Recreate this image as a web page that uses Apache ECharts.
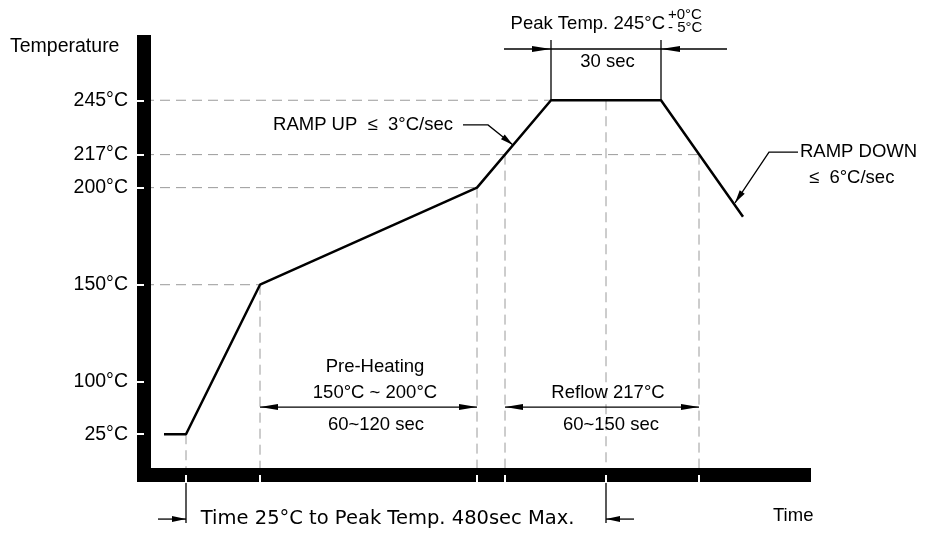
<!DOCTYPE html>
<html>
<head>
<meta charset="utf-8">
<script src="https://cdn.jsdelivr.net/npm/echarts@6/dist/echarts.min.js"></script>
<style>
html, body { margin: 0; padding: 0; background: #fff; }
#chart { width: 929px; height: 534px; }
</style>
</head>
<body>
<div id="chart"></div>
<script>
// reflow profile corners: time (schematic sec) and temperature (°C)
var profileTime = [10, 21, 58, 166.5, 203.5, 258.5, 299.5];
var profileTemp = [25, 25, 150, 200, 245, 245, 185];

// temperature tick labels on the y axis
var tempTicks = [25, 100, 150, 200, 217, 245];

// dashed horizontals: [temperature, time where the dash stops]
var levelGuides = [[150, 58], [200, 166.5], [217, 277.5], [245, 203.5]];
// dashed verticals: [time, temperature where the dash starts]
var timeGuides = [[21, 25], [58, 150], [166.5, 200], [180.5, 217], [231, 245], [277.5, 217]];
var timeTicks = timeGuides.map(function (g) { return g[0]; });

// the axis is broken below 100°C (25°C sits close to 100°C)
function lvl(t) { return t >= 100 ? t : 100 - (100 - t) * 0.36; }

var FONT = "'Liberation Sans', Arial, sans-serif";

// annotation layout, in [time, axis level]
var arrows = [
  { pts: [[58, 87], [166.5, 87]], start: true, end: true, len: 18 },
  { pts: [[180.5, 87], [277.5, 87]], start: true, end: true, len: 18 },
  { pts: [[180, 271.4], [203.5, 271.4]], end: true, len: 19 },
  { pts: [[203.5, 271.4], [258.5, 271.4]] },
  { pts: [[291.5, 271.4], [258.5, 271.4]], end: true, len: 19 },
  { pts: [[203.5, 245], [203.5, 276]] },
  { pts: [[258.5, 245], [258.5, 276]] },
  { pts: [[21, 52], [21, 27.3]] },
  { pts: [[231, 52], [231, 27.3]] },
  { pts: [[7, 29.3], [21, 29.3]], end: true, len: 14 },
  { pts: [[245, 29.3], [231, 29.3]], end: true, len: 14 },
  { pts: [[159.5, 232.3], [172, 232.3], [184.5, 222]], end: true, len: 13 },
  { pts: [[327, 218.3], [312.5, 218.3], [295.5, 192.2]], end: true, len: 13 }
];

var notes = [
  { t: 'Temperature', x: -67, y: 272.4, align: 'left', size: 19.5 },
  { t: 'Peak Temp. 245°C', x: 260.5, y: 284.3, align: 'right' },
  { t: '+0°C', x: 262, y: 288.9, align: 'left', size: 15 },
  { t: '- 5°C', x: 262, y: 282.2, align: 'left', size: 15 },
  { t: '30 sec', x: 231.75, y: 264.7 },
  { t: 'RAMP UP  ≤  3°C/sec', x: 154.5, y: 232.3, align: 'right' },
  { t: 'RAMP DOWN', x: 328, y: 218.3, align: 'left' },
  { t: '≤  6°C/sec', x: 332.5, y: 204.9, align: 'left' },
  { t: 'Pre-Heating', x: 115.5, y: 107.6 },
  { t: '150°C ~ 200°C', x: 115.5, y: 94.2 },
  { t: '60~120 sec', x: 116, y: 77.8 },
  { t: 'Reflow 217°C', x: 232, y: 94.2 },
  { t: '60~150 sec', x: 233.5, y: 77.8 },
  { t: 'Time 25°C to Peak Temp. 480sec Max.', x: 28.4, y: 29.3, align: 'left', size: 19.5, family: "'DejaVu Sans', Verdana, sans-serif" },
  { t: 'Time', x: 314.5, y: 30.9, align: 'left' }
];

function head(tip, from, len, w) {
  var dx = tip[0] - from[0], dy = tip[1] - from[1];
  var d = Math.sqrt(dx * dx + dy * dy) || 1;
  dx /= d; dy /= d;
  var bx = tip[0] - dx * len, by = tip[1] - dy * len;
  return [tip, [bx - dy * w / 2, by + dx * w / 2], [bx + dy * w / 2, by - dx * w / 2]];
}

var guideData = [];
levelGuides.forEach(function (g) { guideData.push([0, lvl(g[0]), g[1], lvl(g[0])]); });
timeGuides.forEach(function (g) { guideData.push([g[0], lvl(g[1]), g[0], 52]); });

var myChart = echarts.init(document.getElementById('chart'));
var option = {
  animation: false,
  grid: { left: 144, right: 125, top: 42, bottom: 59, containLabel: false, outerBoundsMode: 'none' },
  xAxis: {
    type: 'value', min: 0, max: 330, z: 10,
    axisLine: { lineStyle: { color: '#000', width: 14, cap: 'square' } },
    axisTick: { show: true, customValues: timeTicks, length: 8, lineStyle: { color: '#fff', width: 2 } },
    axisLabel: { show: false },
    splitLine: { show: false }
  },
  yAxis: {
    type: 'value', min: 52, max: 275, z: 10,
    axisLine: { show: true, lineStyle: { color: '#000', width: 14, cap: 'square' } },
    axisTick: { show: true, customValues: tempTicks.map(lvl), length: 7, lineStyle: { color: '#fff', width: 2 } },
    axisLabel: {
      customValues: tempTicks.map(lvl), margin: 16, color: '#000', fontSize: 19.5, fontFamily: FONT,
      formatter: function (v) {
        for (var i = 0; i < tempTicks.length; i++) {
          if (Math.abs(lvl(tempTicks[i]) - v) < 0.01) return tempTicks[i] + '°C';
        }
        return '';
      }
    },
    splitLine: { show: false }
  },
  series: [
    {
      type: 'custom', z: 1, silent: true,
      data: guideData,
      renderItem: function (params, api) {
        var a = api.coord([api.value(0), api.value(1)]);
        var b = api.coord([api.value(2), api.value(3)]);
        return {
          type: 'line',
          shape: { x1: a[0], y1: a[1], x2: b[0], y2: b[1] },
          style: { stroke: '#9a9a9a', lineWidth: 1, lineDash: [10, 6] }
        };
      }
    },
    {
      type: 'line', z: 3, silent: true,
      data: profileTime.map(function (t, i) { return [t, lvl(profileTemp[i])]; }),
      showSymbol: false, symbol: 'none',
      lineStyle: { color: '#000', width: 2.5 }
    },
    {
      type: 'custom', z: 4, silent: true,
      data: arrows.map(function (a) { return a.pts[0]; }),
      renderItem: function (params, api) {
        var a = arrows[params.dataIndex];
        var pts = a.pts.map(function (p) { return api.coord(p); });
        var kids = [{
          type: 'polyline',
          shape: { points: pts },
          style: { stroke: '#000', lineWidth: 1.3, fill: null }
        }];
        var n = pts.length;
        if (a.end) kids.push({ type: 'polygon', shape: { points: head(pts[n - 1], pts[n - 2], a.len, 6) }, style: { fill: '#000' } });
        if (a.start) kids.push({ type: 'polygon', shape: { points: head(pts[0], pts[1], a.len, 6) }, style: { fill: '#000' } });
        return { type: 'group', children: kids };
      }
    },
    {
      type: 'custom', z: 4, silent: true,
      data: notes.map(function (n) { return [n.x, n.y]; }),
      renderItem: function (params, api) {
        var n = notes[params.dataIndex];
        var p = api.coord([n.x, n.y]);
        return {
          type: 'text', x: p[0], y: p[1],
          style: {
            text: n.t, fill: '#000',
            font: (n.size || 18.5) + 'px ' + (n.family || FONT),
            align: n.align || 'center', verticalAlign: 'middle'
          }
        };
      }
    }
  ]
};
myChart.setOption(option);
</script>
</body>
</html>
